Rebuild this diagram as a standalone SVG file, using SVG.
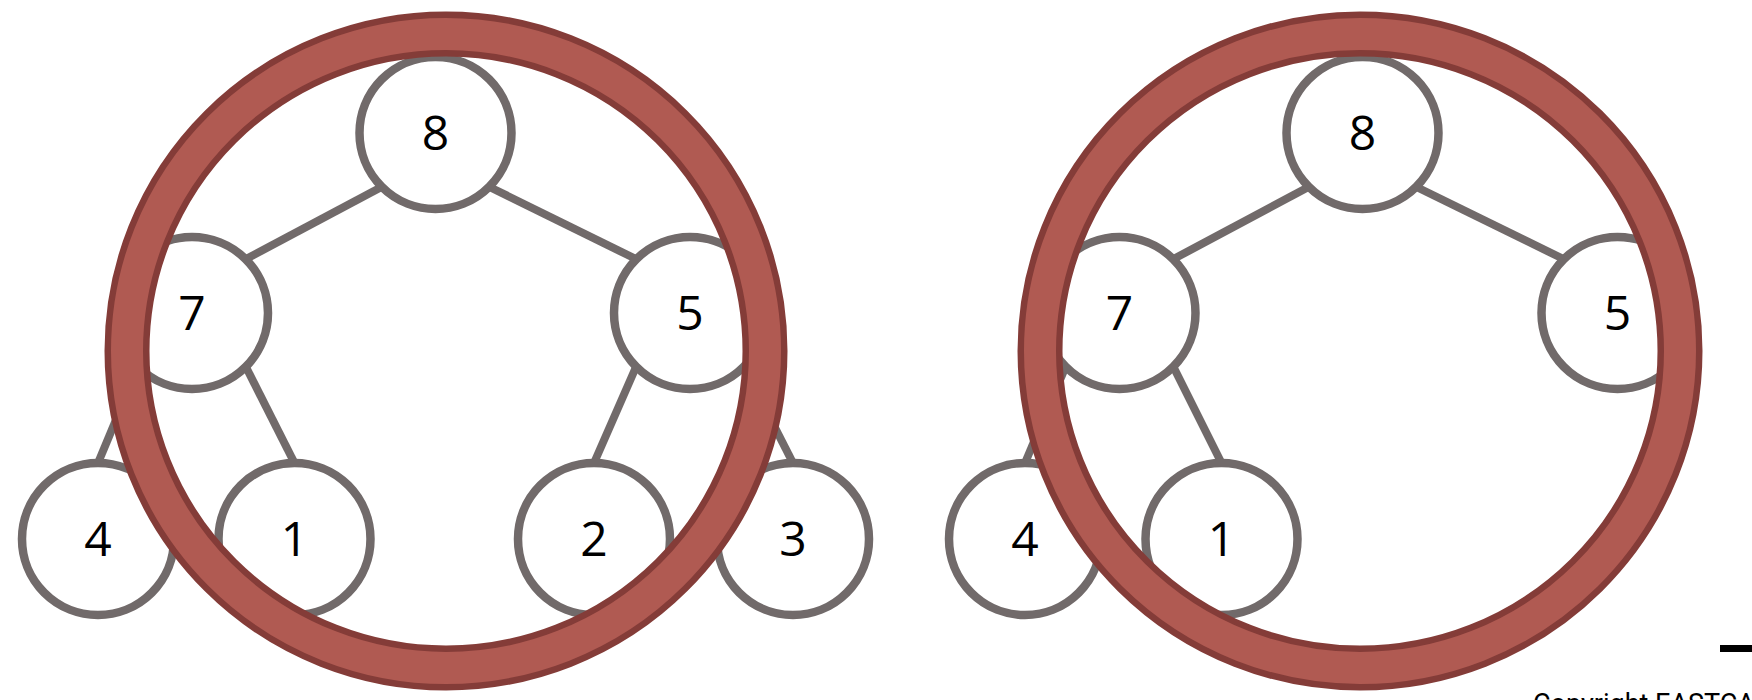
<svg xmlns="http://www.w3.org/2000/svg" width="1752" height="700" viewBox="0 0 1752 700">
<style>
.edge{stroke:#716a6a;stroke-width:8;fill:none}
.node circle{fill:#fff;stroke:#716a6a;stroke-width:8.5}
.node text{font-family:"Open Sans","Noto Sans",sans-serif;font-size:48px;fill:#000;text-anchor:middle}
.ringO{fill:none;stroke:#843c38;stroke-width:45}
.ringI{fill:none;stroke:#b05a52;stroke-width:32}
</style>
<rect width="1752" height="700" fill="#fff"/>
<g id="connectors">
<line class="edge" x1="381.5" y1="187" x2="246" y2="259"/>
<line class="edge" x1="489.5" y1="187" x2="636" y2="259"/>
<line class="edge" x1="138" y1="367" x2="98" y2="463"/>
<line class="edge" x1="246" y1="367" x2="294.5" y2="463"/>
<line class="edge" x1="636" y1="367" x2="594" y2="463"/>
<line class="edge" x1="744" y1="367" x2="793" y2="463"/>
<line class="edge" x1="1308.5" y1="187" x2="1173.5" y2="259"/>
<line class="edge" x1="1416.5" y1="187" x2="1563.5" y2="259"/>
<line class="edge" x1="1065.5" y1="367" x2="1025" y2="463"/>
<line class="edge" x1="1173.5" y1="367" x2="1221.5" y2="463"/>
</g>
<g id="n8a" class="node"><circle cx="435.5" cy="133" r="76"/><text x="435.5" y="150">8</text></g>
<g id="n7a" class="node"><circle cx="192" cy="313" r="76"/><text x="192" y="330">7</text></g>
<g id="n5a" class="node"><circle cx="690" cy="313" r="76"/><text x="690" y="330">5</text></g>
<g id="n4a" class="node"><circle cx="98" cy="539" r="76"/><text x="98" y="556">4</text></g>
<g id="n1a" class="node"><circle cx="294.5" cy="539" r="76"/><text x="294.5" y="556">1</text></g>
<g id="n2a" class="node"><circle cx="594" cy="539" r="76"/><text x="594" y="556">2</text></g>
<g id="n3a" class="node"><circle cx="793" cy="539" r="76"/><text x="793" y="556">3</text></g>
<g id="n8b" class="node"><circle cx="1362.5" cy="133" r="76"/><text x="1362.5" y="150">8</text></g>
<g id="n7b" class="node"><circle cx="1119.5" cy="313" r="76"/><text x="1119.5" y="330">7</text></g>
<g id="n5b" class="node"><circle cx="1617.5" cy="313" r="76"/><text x="1617.5" y="330">5</text></g>
<g id="n4b" class="node"><circle cx="1025" cy="539" r="76"/><text x="1025" y="556">4</text></g>
<g id="n1b" class="node"><circle cx="1221.5" cy="539" r="76"/><text x="1221.5" y="556">1</text></g>
<g id="ringA"><ellipse class="ringO" cx="446" cy="351" rx="319" ry="317"/><ellipse class="ringI" cx="446" cy="351" rx="319" ry="317"/></g>
<g id="ringB"><ellipse class="ringO" cx="1360" cy="351" rx="320" ry="317"/><ellipse class="ringI" cx="1360" cy="351" rx="320" ry="317"/></g>
<rect x="1720" y="645" width="32" height="7" fill="#000"/>
<text x="1533" y="713" font-family="Roboto,sans-serif" font-size="27" fill="#000">Copyright EASTCA</text>
</svg>
